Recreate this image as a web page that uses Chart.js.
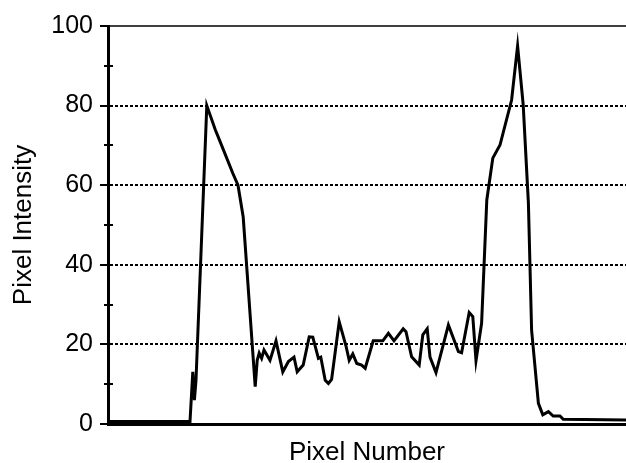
<!DOCTYPE html>
<html>
<head>
<meta charset="utf-8">
<script src="https://cdn.jsdelivr.net/npm/chart.js@4.4.0/dist/chart.umd.min.js"></script>
<style>
    html, body { margin: 0; padding: 0; background: #fff; }
    #wrap { width: 626px; height: 463px; position: relative; }
</style>
</head>
<body>
<div id="wrap"><canvas id="chartProfile"></canvas></div>
<script>
// Pixel number (x) and intensity (y)
const pixelNumber = [
    0, 20.5, 21.2, 21.6, 22, 24.7, 26.8, 28, 31.2, 32.5, 33.8, 36.8, 37.3, 37.8, 38.4,
    39, 40.5, 42, 43.7, 45.1, 46.5, 47.3, 48.8, 50.3, 51.2, 52.6, 53.2, 54.3, 55.1,
    55.9, 57.8, 59.5, 60.3, 61.2, 62.2, 63.4, 64.3, 66.3, 68.7, 70.1, 71.5, 73.8,
    74.5, 75.9, 77.8, 78.7, 79.8, 80.5, 82, 85.1, 87.6, 88.4, 90.3, 91.2, 92, 93.4,
    94.7, 96.2, 98, 100.9, 102.4, 103.8, 105.1, 105.9, 107.6, 108.7, 110.1, 111.3,
    113, 113.8, 129.5
];
const intensity = [
    0.6, 0.6, 13.1, 6, 11, 80, 74, 71, 63, 60, 52, 9.4, 16, 17.8, 16.5,
    18.6, 16, 20.9, 13.1, 15.7, 16.8, 13.1, 14.8, 21.9, 21.8, 16.5, 16.8, 11, 10.2,
    11.2, 25.7, 19.6, 16, 17.6, 15.2, 14.8, 14, 20.9, 20.9, 22.8, 20.9, 23.9,
    23.2, 16.9, 14.8, 22.4, 23.9, 16.8, 12.9, 24.9, 18.2, 17.9, 28, 27, 15.9, 25.3,
    56.3, 66.8, 70.1, 81.4, 95, 80.2, 55.5, 23.6, 5.2, 2.3, 3.1, 2,
    2, 1.2, 1
];
const yMajorTicks = [0, 20, 40, 60, 80, 100];
const yMinorTicks = [10, 30, 50, 70, 90];
const yGridLines = [20, 40, 60, 80];

const fontFamily = '"Liberation Sans", Arial, sans-serif';

// minor ticks crossing the axis + thin top frame line
const framePlugin = {
    id: 'frame',
    afterDraw(chart) {
        const ctx = chart.ctx;
        const area = chart.chartArea;
        const yScale = chart.scales.y;
        ctx.save();
        ctx.strokeStyle = '#000';
        ctx.lineWidth = 2;
        yMinorTicks.forEach(v => {
            const py = Math.round(yScale.getPixelForValue(v));
            ctx.beginPath();
            ctx.moveTo(area.left - 4, py);
            ctx.lineTo(area.left + 5, py);
            ctx.stroke();
        });
        ctx.lineWidth = 1.5;
        ctx.beginPath();
        ctx.moveTo(area.left - 8, area.top);
        ctx.lineTo(area.right, area.top);
        ctx.stroke();
        ctx.restore();
    }
};

const ctx = document.getElementById('chartProfile').getContext('2d');
new Chart(ctx, {
    type: 'line',
    data: {
        datasets: [{
            data: pixelNumber.map((x, i) => ({ x: x, y: intensity[i] })),
            borderColor: '#000',
            borderWidth: 3,
            pointRadius: 0,
            tension: 0,
            fill: false
        }]
    },
    options: {
        responsive: true,
        maintainAspectRatio: false,
        animation: false,
        layout: { padding: { top: 26, right: 0, bottom: 0, left: 0 } },
        plugins: {
            legend: { display: false },
            tooltip: { enabled: false }
        },
        scales: {
            x: {
                type: 'linear',
                min: 0,
                max: 129.5,
                grid: { display: false },
                border: { display: true, color: '#000', width: 3 },
                ticks: { display: false },
                title: {
                    display: true,
                    text: 'Pixel Number',
                    color: '#000',
                    font: { family: fontFamily, size: 26, lineHeight: 0.8 },
                    padding: { top: 0, bottom: 0 }
                },
                afterFit: scale => { scale.height = 39; }
            },
            y: {
                min: 0,
                max: 100,
                ticks: {
                    stepSize: 10,
                    color: '#000',
                    padding: 7,
                    font: { family: fontFamily, size: 25 },
                    callback: v => yMajorTicks.includes(v) ? v : ''
                },
                grid: {
                    lineWidth: 2,
                    tickLength: 8,
                    tickWidth: 2,
                    tickBorderDash: [],
                    color: c => yGridLines.includes(c.tick.value) ? '#000' : 'rgba(0,0,0,0)',
                    tickColor: c => yMajorTicks.includes(c.tick.value) ? '#000' : 'rgba(0,0,0,0)'
                },
                border: { display: true, color: '#000', width: 3, dash: [3, 2] },
                title: {
                    display: true,
                    text: 'Pixel Intensity',
                    color: '#000',
                    font: { family: fontFamily, size: 26, lineHeight: 1 },
                    padding: { top: 11, bottom: 0 }
                },
                afterFit: scale => { scale.width = 108; }
            }
        }
    },
    plugins: [framePlugin]
});
</script>
</body>
</html>
